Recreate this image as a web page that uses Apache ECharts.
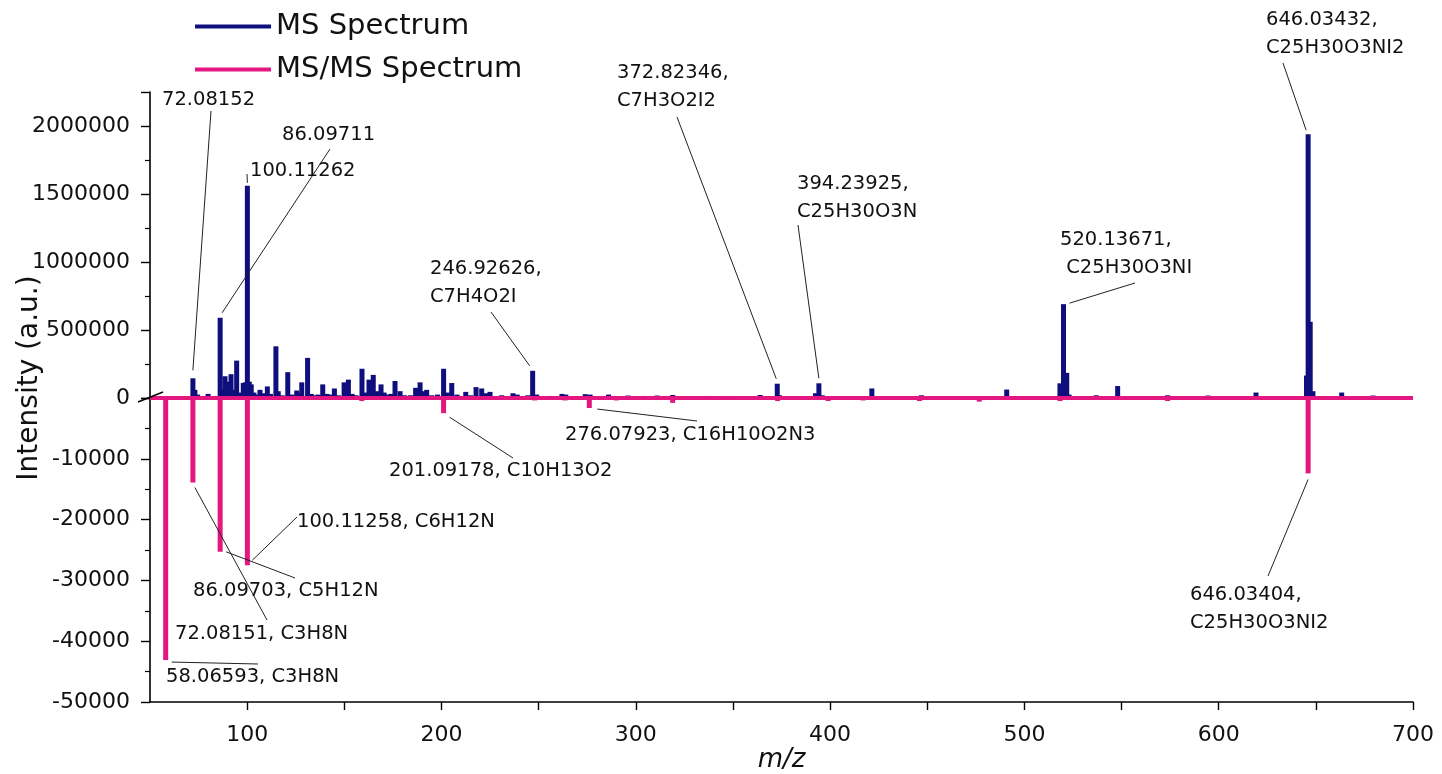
<!DOCTYPE html>
<html><head><meta charset="utf-8">
<script src="https://cdn.jsdelivr.net/npm/echarts@6/dist/echarts.min.js"></script>
<style>html,body{margin:0;padding:0;background:#fff}#c{width:1442px;height:774px}</style>
</head><body><div id="c"></div>
<script>
// ---------------- DATA ----------------
const seriesNames = ['MS Spectrum', 'MS/MS Spectrum'];
const xTickLabels = [100, 200, 300, 400, 500, 600, 700];
const msMz = [72.08,73.1,74.5,76.5,79.9,82,84,86.10,87.1,88.6,90.1,91.7,93,94.6,96,98.0,99.0,100.11,101.1,102.1,103.5,105,106.6,108,110.4,112,114.8,116,118,120.9,123,125.5,127,128.1,131.1,133,135,136.5,138.9,141,143,144.9,147,149.9,152.1,154,156,159.1,161,162.7,164.9,167,168.9,170.5,172,174,176.1,178.7,181,184,186.7,189,190.8,192.4,195,198,201.1,203,205.3,208,210,212.5,215,217.8,220.7,223,225,228,231,234,236.8,239,242,244.5,246.93,249,252,256,259,262,264,268,271,274,276.5,280,283,286,288,292,296,300,304,308,311,315,319,324,328,333,336.5,340,344,347.5,352,356,360,364,368,372.82,374,378,383,388,392.5,394.24,396,400,405,410,415,421.5,423,427,433,440,447,452,458,465,470,476,482,486,490.9,492,498,503,508,512,518.3,520.14,521.8,523,530,537,541,548,549.5,555,562,568,573.7,580,587,594.5,600,606,612,619.2,625,632,638,645.2,646.03,647.1,648.5,655,663.3,668,672,679.4,685,690];
const msIntensity = [145000,60000,25000,12000,30000,10000,15000,590000,60000,160000,120000,175000,60000,275000,40000,110000,115000,1560000,120000,100000,40000,25000,60000,35000,85000,30000,380000,50000,20000,190000,25000,55000,35000,115000,295000,30000,20000,25000,100000,30000,25000,70000,20000,115000,135000,30000,20000,215000,40000,135000,170000,50000,100000,40000,25000,30000,125000,50000,20000,20000,75000,115000,50000,60000,20000,25000,215000,40000,110000,25000,15000,45000,20000,80000,70000,35000,45000,15000,20000,15000,35000,25000,15000,20000,200000,25000,12000,15000,12000,30000,25000,12000,10000,28000,25000,10000,15000,25000,15000,10000,18000,12000,15000,15000,18000,12000,22000,12000,10000,12000,15000,10000,12000,15000,10000,12000,10000,22000,10000,105000,20000,10000,10000,12000,35000,108000,20000,10000,12000,10000,12000,70000,15000,10000,12000,10000,20000,10000,10000,12000,10000,12000,10000,12000,62000,15000,10000,10000,12000,10000,108000,690000,185000,25000,12000,20000,10000,88000,15000,10000,12000,10000,20000,10000,12000,18000,10000,10000,12000,40000,10000,12000,10000,165000,1940000,560000,50000,12000,40000,12000,10000,18000,10000,8000];
const msmsMz = [58.07,72.08,86.10,100.11,159,201.09,248,263.6,276.08,290,319,373,399,417,446,476.8,518.3,573.7,646.03];
const msmsIntensity = [-43100,-13900,-25300,-27500,-500,-2500,-400,-400,-1650,-400,-800,-500,-500,-400,-500,-600,-500,-500,-12400];
const msLabels = ['72.08152','86.09711','100.11262','246.92626,\nC7H4O2I','372.82346,\nC7H3O2I2','394.23925,\nC25H30O3N','520.13671,\n C25H30O3NI','646.03432,\nC25H30O3NI2'];
const msLabelMz = [72.08,86.10,100.11,246.93,372.82,394.24,520.14,646.03];
const msmsLabels = ['201.09178, C10H13O2','276.07923, C16H10O2N3','100.11258, C6H12N','86.09703, C5H12N','72.08151, C3H8N','58.06593, C3H8N','646.03404,\nC25H30O3NI2'];
const msmsLabelMz = [201.09,276.08,100.11,86.10,72.08,58.07,646.03];

// ---------------- LAYOUT (pixels, annotations only) ----------------
// t: text left/center, l: leader end near the text, o: offset from the peak tip
const msLayout = [
  {t:[162,100], l:[211,111], o:[0,-8]},
  {t:[282,135], l:[330,149], o:[2,-5]},
  {t:[250,171], l:[247,174], o:[0,-3]},
  {t:[430,283], l:[491,312], o:[-3,-5]},
  {t:[617,87],  l:[677,117], o:[-1,-5]},
  {t:[797,198], l:[798,225], o:[0,-5]},
  {t:[1060,254],l:[1135,283],o:[6,-1]},
  {t:[1266,34], l:[1283,63], o:[-2,-4]}
];
const msmsLayout = [
  {t:[389,471], l:[513,458], o:[6,4]},
  {t:[565,435], l:[697,421], o:[8,1]},
  {t:[297,522], l:[297,517], o:[5,-5]},
  {t:[193,591], l:[295,578], o:[6,0]},
  {t:[175,634], l:[267,620], o:[2,5]},
  {t:[166,677], l:[258,664], o:[6,2]},
  {t:[1190,609],l:[1268,576],o:[0,6]}
];

const BLUE = '#0e0e7c', PINK = '#e3177f';
const FONT = 'DejaVu Sans';

const chart = echarts.init(document.getElementById('c'), null, {renderer: 'canvas'});

const msData = msMz.map((m, i) => [m, msIntensity[i]]);
const msmsData = msmsMz.map((m, i) => [m, msmsIntensity[i]]);

const axisLineStyle = {color: '#000', width: 1.6};
const labelStyle = {fontSize: 22, fontFamily: FONT, color: '#111'};
const plain = v => String(v);

chart.setOption({
  animation: false,
  backgroundColor: '#fff',
  legend: {
    orient: 'vertical', left: 190, top: 6, itemGap: 12,
    icon: 'rect', itemWidth: 76, itemHeight: 4,
    textStyle: {fontSize: 29, fontFamily: FONT, color: '#111', lineHeight: 31},
    data: seriesNames
  },
  grid: [
    {left: 150, right: 29, top: 92, height: 306},
    {left: 150, right: 29, top: 398, height: 306}
  ],
  xAxis: [
    {gridIndex: 0, type: 'value', min: 50, max: 700, interval: 50,
     axisLine: {show: false}, axisTick: {show: false}, axisLabel: {show: false}, splitLine: {show: false}},
    {gridIndex: 1, type: 'value', min: 50, max: 700, interval: 50,
     axisLine: {show: true, onZero: false, lineStyle: axisLineStyle},
     axisTick: {show: true, length: 8, lineStyle: {color: '#000', width: 1.4}},
     axisLabel: Object.assign({margin: 22, showMinLabel: false,
       formatter: v => (xTickLabels.indexOf(v) >= 0 ? String(v) : '')}, labelStyle),
     splitLine: {show: false},
     name: 'm/z', nameLocation: 'middle', nameGap: 45,
     nameTextStyle: {fontSize: 26, fontFamily: FONT, fontStyle: 'italic', color: '#111'}}
  ],
  yAxis: [
    {gridIndex: 0, type: 'value', min: 0, max: 2250000, interval: 500000,
     axisLine: {show: true, lineStyle: axisLineStyle},
     axisTick: {show: true, length: 9, lineStyle: {color: '#000', width: 1.4}},
     minorTick: {show: true, splitNumber: 2, length: 5, lineStyle: {color: '#000', width: 1.2}},
     axisLabel: Object.assign({margin: 20, showMaxLabel: false, formatter: plain}, labelStyle),
     splitLine: {show: false}, minorSplitLine: {show: false}},
    {gridIndex: 1, type: 'value', min: -50000, max: 0, interval: 10000,
     axisLine: {show: true, lineStyle: axisLineStyle},
     axisTick: {show: true, length: 9, lineStyle: {color: '#000', width: 1.4}},
     minorTick: {show: true, splitNumber: 2, length: 5, lineStyle: {color: '#000', width: 1.2}},
     axisLabel: Object.assign({margin: 20, showMaxLabel: false, formatter: plain}, labelStyle),
     splitLine: {show: false}, minorSplitLine: {show: false}}
  ],
  series: [
    {name: seriesNames[0], type: 'bar', xAxisIndex: 0, yAxisIndex: 0, data: msData,
     barWidth: 5, itemStyle: {color: BLUE}, z: 2},
    {name: seriesNames[1], type: 'bar', xAxisIndex: 1, yAxisIndex: 1, data: msmsData,
     barWidth: 5, itemStyle: {color: PINK}, z: 3,
     markLine: {silent: true, symbol: 'none', label: {show: false},
       lineStyle: {color: PINK, width: 4, type: 'solid'},
       data: [{yAxis: 0}]}}
  ]
});

// ---------------- ANNOTATIONS ----------------
const graphics = [];
function addAnno(text, mz, values, mzArr, gridIndex, lay) {
  const idx = mzArr.indexOf(mz);
  const val = values[idx];
  const p = chart.convertToPixel({xAxisIndex: gridIndex, yAxisIndex: gridIndex}, [mz, val]);
  graphics.push({type: 'line', silent: true, z: 10,
    shape: {x1: lay.l[0], y1: lay.l[1], x2: p[0] + lay.o[0], y2: p[1] + lay.o[1]},
    style: {stroke: '#222', lineWidth: 1}});
  graphics.push({type: 'text', silent: true, z: 11, x: lay.t[0], y: lay.t[1],
    style: {text: text, fontSize: 19.5, fontFamily: FONT, fill: '#111',
      textAlign: 'left', textVerticalAlign: 'middle', lineHeight: 28}});
}
msLabels.forEach((t, i) => addAnno(t, msLabelMz[i], msIntensity, msMz, 0, msLayout[i]));
msmsLabels.forEach((t, i) => addAnno(t, msmsLabelMz[i], msmsIntensity, msmsMz, 1, msmsLayout[i]));

// axis break mark at the junction of the two scales
const z0 = chart.convertToPixel({xAxisIndex: 0, yAxisIndex: 0}, [50, 0]);
graphics.push({type: 'line', silent: true, z: 12,
  shape: {x1: z0[0] - 12, y1: z0[1] + 4, x2: z0[0] + 13, y2: z0[1] - 6},
  style: {stroke: '#000', lineWidth: 1.4}});

// y-axis title
graphics.push({type: 'text', silent: true, x: 30, y: 378, rotation: Math.PI / 2,
  style: {text: 'Intensity (a.u.)', fontSize: 28, fontFamily: FONT, fill: '#111',
    textAlign: 'center', textVerticalAlign: 'middle'}});

chart.setOption({graphic: graphics});
</script>
</body></html>
